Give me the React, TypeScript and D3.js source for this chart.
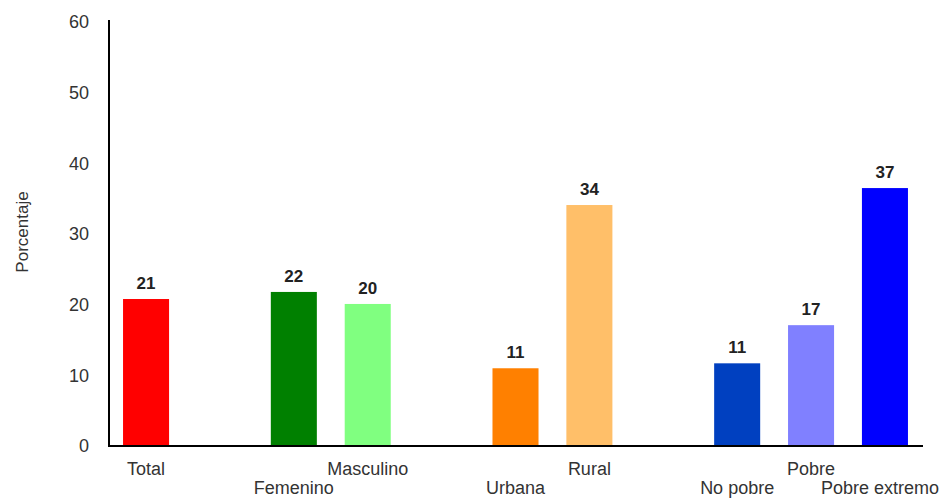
import React, { useEffect, useRef } from "react";
import * as d3 from "d3";

// slots: the "_g" keys keep the gaps between groups
const slots = ["Total", "_g1", "Femenino", "Masculino", "_g2", "Urbana", "Rural", "_g3", "No pobre", "Pobre", "Pobre extremo"];
const categories = ["Total", "Femenino", "Masculino", "Urbana", "Rural", "No pobre", "Pobre", "Pobre extremo"];
const values = [20.8, 21.8, 20.1, 11.0, 34.1, 11.7, 17.1, 36.5];
const valueLabels = ["21", "22", "20", "11", "34", "11", "17", "37"];
const colors = ["#ff0000", "#008000", "#80ff80", "#ff8000", "#ffbf69", "#0040c0", "#8080ff", "#0000ff"];
const labelRow = [0, 1, 0, 1, 0, 1, 0, 1];
const yTicks = [0, 10, 20, 30, 40, 50, 60];

const App = () => {
  const svgRef = useRef<SVGSVGElement>(null);

  useEffect(() => {
    const width = 941;
    const height = 499;
    const marginTop = 22;
    const marginLeft = 109;
    const axisBottom = 446;
    const plotRight = 922;

    const svg = d3.select(svgRef.current).attr("width", width).attr("height", height);
    svg.selectAll("*").remove();

    const x = d3
      .scaleBand()
      .domain(slots)
      .range([marginLeft, plotRight])
      .paddingInner(0.377)
      .paddingOuter(0.19);

    const y = d3.scaleLinear().domain([0, 60]).range([axisBottom, marginTop]);

    const font = "Arial, 'Liberation Sans', sans-serif";

    // y tick labels (no tick marks)
    svg
      .append("g")
      .selectAll("text")
      .data(yTicks)
      .join("text")
      .attr("x", 89)
      .attr("y", (d) => y(d))
      .attr("dy", "0.35em")
      .attr("text-anchor", "end")
      .style("font-family", font)
      .style("font-size", "18px")
      .attr("fill", "#333")
      .text((d) => d);

    // bars
    svg
      .append("g")
      .selectAll("rect")
      .data(categories)
      .join("rect")
      .attr("x", (d) => x(d)!)
      .attr("width", x.bandwidth())
      .attr("y", (d, i) => y(values[i]))
      .attr("height", (d, i) => axisBottom - y(values[i]))
      .attr("fill", (d, i) => colors[i]);

    // value labels
    svg
      .append("g")
      .selectAll("text")
      .data(categories)
      .join("text")
      .attr("x", (d) => x(d)! + x.bandwidth() / 2)
      .attr("y", (d, i) => y(values[i]) - 10)
      .attr("text-anchor", "middle")
      .style("font-family", font)
      .style("font-size", "17px")
      .style("font-weight", "bold")
      .attr("fill", "#222")
      .text((d, i) => valueLabels[i]);

    // category labels, alternating rows
    const catLabels = svg
      .append("g")
      .selectAll("text")
      .data(categories)
      .join("text")
      .attr("x", (d) => x(d)! + x.bandwidth() / 2)
      .attr("y", (d, i) => (labelRow[i] === 0 ? 475 : 494))
      .attr("text-anchor", "middle")
      .style("font-family", font)
      .style("font-size", "18px")
      .attr("fill", "#333")
      .text((d) => d);

    // keep the last label inside the picture
    catLabels.each(function (d) {
      const el = this as SVGTextElement;
      const half = el.getComputedTextLength() / 2;
      const cx = x(d)! + x.bandwidth() / 2;
      if (cx + half > width - 2) d3.select(el).attr("x", width - 2 - half);
    });

    // axes lines
    svg
      .append("line")
      .attr("x1", marginLeft)
      .attr("x2", marginLeft)
      .attr("y1", marginTop - 2)
      .attr("y2", axisBottom + 1)
      .attr("stroke", "#000")
      .attr("stroke-width", 2);
    svg
      .append("line")
      .attr("x1", marginLeft)
      .attr("x2", plotRight + 1)
      .attr("y1", axisBottom)
      .attr("y2", axisBottom)
      .attr("stroke", "#000")
      .attr("stroke-width", 2);

    // y axis title
    svg
      .append("text")
      .attr("transform", `translate(28, 232) rotate(-90)`)
      .attr("text-anchor", "middle")
      .style("font-family", font)
      .style("font-size", "17px")
      .attr("fill", "#333")
      .text("Porcentaje");
  }, []);

  return (
    <div style={{ position: "absolute", left: 0, top: 0 }}>
      <svg ref={svgRef}></svg>
    </div>
  );
};
export default App;
